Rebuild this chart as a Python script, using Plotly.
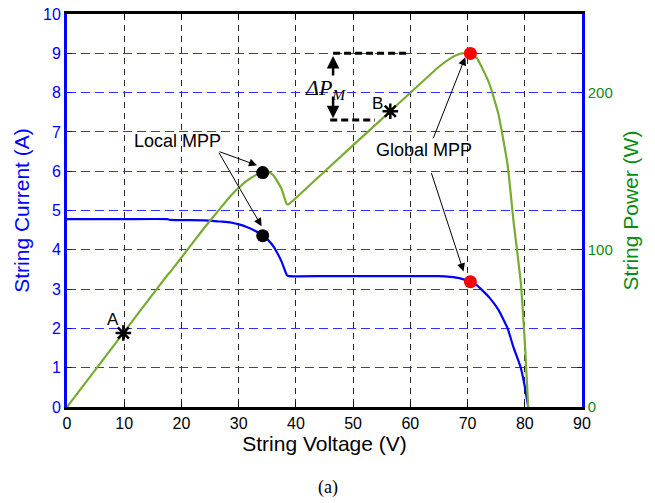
import plotly.graph_objects as go

# String I-V characteristic under partial shading (read points)
voltage = [0, 10, 17.5, 18, 24, 26.7, 28.5, 30.2, 31.4, 32.5, 33.4, 34.2, 35.2, 36.1, 37.5, 38.4,
           38.8, 45, 55, 65, 67, 68, 69, 70.5, 71.6, 72.5, 73.9, 75.4, 77.0, 78.0,
           79.3, 80.0, 80.6]
current = [4.78, 4.78, 4.78, 4.76, 4.75, 4.72, 4.70, 4.64, 4.58, 4.51, 4.44, 4.36, 4.24, 4.08, 3.70, 3.36,
           3.33, 3.33, 3.33, 3.33, 3.31, 3.29, 3.26, 3.19, 3.10, 2.98, 2.77, 2.47, 2.0, 1.53,
           1.0, 0.52, 0.0]
# String power P = V * I
power = [v * i for v, i in zip(voltage, current)]

# Marked operating points
local_mpp_v, local_mpp_i = 34.2, 4.36
global_mpp_v, global_mpp_i = 70.5, 3.19
point_a_v, point_a_i = 9.85, 4.78
point_b_v, point_b_i = 56.5, 3.33
delta_top_w, delta_bottom_w = 225.0, 182.5

x_ticks = list(range(0, 91, 10))
y_ticks = list(range(0, 11))
p_ticks = [25 * k for k in range(11)]
p_labels = [str(p) if p in (0, 100, 200) else "" for p in p_ticks]

BLUE = "rgb(0,0,255)"
GREEN_LINE = "rgb(119,172,48)"
GREEN_TXT = "rgb(10,140,20)"
FONT = "Liberation Sans, Arial, sans-serif"
SERIF = "Liberation Serif, Times New Roman, serif"

fig = go.Figure()

fig.add_trace(go.Scatter(x=voltage, y=current, mode="lines",
                         line=dict(color=BLUE, width=2.2, shape="spline", smoothing=0.4),
                         yaxis="y", showlegend=False))
fig.add_trace(go.Scatter(x=voltage, y=power, mode="lines",
                         line=dict(color=GREEN_LINE, width=2.2, shape="spline", smoothing=0.4),
                         yaxis="y2", showlegend=False))

# Delta P_M reference lines
fig.add_trace(go.Scatter(x=[46.5, 59.4], y=[delta_top_w, delta_top_w], mode="lines",
                         line=dict(color="black", width=3, dash="7px,4px"),
                         yaxis="y2", showlegend=False))
fig.add_trace(go.Scatter(x=[46.0, 53.8], y=[delta_bottom_w, delta_bottom_w], mode="lines",
                         line=dict(color="black", width=3, dash="7px,4px"),
                         yaxis="y2", showlegend=False))

# MPP markers
fig.add_trace(go.Scatter(x=[local_mpp_v, local_mpp_v],
                         y=[local_mpp_v * local_mpp_i, local_mpp_i * 25],
                         mode="markers", marker=dict(color="black", size=13),
                         yaxis="y2", showlegend=False))
fig.add_trace(go.Scatter(x=[global_mpp_v, global_mpp_v],
                         y=[global_mpp_v * global_mpp_i, global_mpp_i * 25],
                         mode="markers", marker=dict(color="red", size=13),
                         yaxis="y2", showlegend=False))
# Operating points A and B
fig.add_trace(go.Scatter(x=[point_a_v, point_b_v],
                         y=[point_a_v * point_a_i, point_b_v * point_b_i],
                         mode="markers",
                         marker=dict(symbol="asterisk-open", size=13, color="black",
                                     line=dict(color="black", width=2.5)),
                         yaxis="y2", showlegend=False))

ann = []
def text(x, y, s, size=17, font=FONT, color="black"):
    ann.append(dict(x=x, y=y, xref="x", yref="y", text=s, showarrow=False,
                    font=dict(family=font, size=size, color=color)))

def arrow(x0, y0, x1, y1, width=1, size=1.6, head=2):
    ann.append(dict(x=x1, y=y1, ax=x0, ay=y0, xref="x", yref="y", axref="x", ayref="y",
                    text="", showarrow=True, arrowhead=head, arrowsize=size,
                    arrowwidth=width, arrowcolor="black"))

text(19.3, 6.77, "Local MPP", size=18)
arrow(26.4, 6.51, 33.2, 6.15)
arrow(26.4, 6.51, 34.0, 4.6)
text(62.4, 6.55, "Global MPP", size=18)
arrow(63.9, 6.8, 69.6, 8.9)
arrow(63.6, 5.99, 69.3, 3.45)
text(8.1, 2.22, "A")
text(54.2, 7.72, "B")
arrow(46.5, 8.4, 46.5, 8.93, width=2.5, size=1.0)
arrow(46.5, 7.94, 46.5, 7.35, width=2.5, size=1.0)
text(45.2, 8.08, "<i>ΔP<sub>M</sub></i>", size=22, font=SERIF)
ann.append(dict(x=0.507, y=-0.204, xref="paper", yref="paper", text="(a)", showarrow=False,
                xanchor="center", yanchor="middle",
                font=dict(family=SERIF, size=18, color="black")))

fig.update_layout(
    width=655, height=503,
    margin=dict(l=67, r=73, t=14, b=96, autoexpand=False),
    paper_bgcolor="white", plot_bgcolor="white",
    font=dict(family=FONT, size=15),
    annotations=ann,
    xaxis=dict(range=[0, 90], tickvals=x_ticks, showgrid=True, gridcolor="rgb(40,40,40)",
               griddash="6px,5px", gridwidth=1, zeroline=False, automargin=False,
               showline=True, linecolor="black", linewidth=2.5, mirror="ticks",
               ticks="inside", ticklen=5, tickcolor="black",
               tickfont=dict(color="black", size=16),
               title=dict(text="String Voltage (V)", font=dict(size=21, color="black"), standoff=5)),
    yaxis=dict(range=[0, 10], tickvals=y_ticks, showgrid=True, gridcolor="rgb(50,50,255)",
               griddash="9px,5px", gridwidth=1, zeroline=False, automargin=False,
               showline=True, linecolor=BLUE, linewidth=3,
               ticks="inside", ticklen=5, tickcolor=BLUE,
               tickfont=dict(color=BLUE, size=16),
               title=dict(text="String Current (A)", font=dict(size=21, color=BLUE), standoff=8)),
    yaxis2=dict(range=[0, 250], overlaying="y", side="right", tickvals=p_ticks,
                ticktext=p_labels, showgrid=False, zeroline=False, automargin=False,
                showline=True, linecolor=BLUE, linewidth=2.5,
                ticks="inside", ticklen=5, tickcolor=BLUE,
                tickfont=dict(color=GREEN_TXT, size=15),
                title=dict(text="String Power (W)", font=dict(size=21, color=GREEN_TXT), standoff=12)),
)

fig.write_html("out.html")
